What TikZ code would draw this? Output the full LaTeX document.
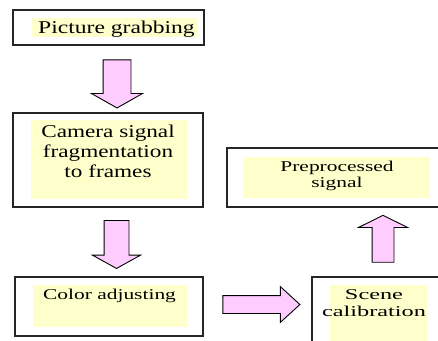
\documentclass[tikz,border=0pt]{standalone}
\usepackage{fontspec}
\setmainfont{Liberation Serif}
\usetikzlibrary{shapes.arrows}

\definecolor{notepink}{HTML}{FFCCFF}
\definecolor{noteyellow}{HTML}{FFFFCC}

% text squeezed into a tabular and stretched sideways
\newcommand{\widetext}[2]{\scalebox{#1}[1]{\begin{tabular}[t]{@{}c@{}}#2\end{tabular}}}

\begin{document}
\begin{tikzpicture}[
    x=1pt,
    y=-1pt,
    stepbox/.style={draw=black!85, line width=1.4pt, fill=white, inner sep=0pt},
    notefill/.style={fill=noteyellow, inner sep=0pt},
    bigtext/.style={anchor=base, inner sep=0pt, font=\fontsize{18}{20}\selectfont},
    smalltext/.style={anchor=base, inner sep=0pt, font=\fontsize{15}{16.5}\selectfont},
    blockarrow/.style={single arrow, draw=black, line width=0.9pt, fill=notepink, inner xsep=0pt}
  ]
    \useasboundingbox (0,0) rectangle (438,340);
    \clip (0,0) rectangle (438,340);

    \node[stepbox, minimum width=191, minimum height=35] (grab) at (108.5, 27.5) {};
    \node[stepbox, minimum width=190, minimum height=94] (frames) at (108, 160) {};
    \node[stepbox, minimum width=188, minimum height=59] (color) at (109, 306.5) {};
    \node[stepbox, minimum width=148, minimum height=83] (scene) at (386, 318.5) {};
    \node[stepbox, minimum width=233, minimum height=59] (result) at (343.5, 177.5) {};

    \node[notefill, minimum width=165, minimum height=19] (grabfill) at (114.5, 27.5) {};
    \node[notefill, minimum width=156, minimum height=79] (framesfill) at (109, 159.5) {};
    \node[notefill, minimum width=154, minimum height=42] (colorfill) at (110, 306) {};
    \node[notefill, minimum width=97, minimum height=65] (scenefill) at (378.5, 317.5) {};
    \node[notefill, minimum width=187, minimum height=41] (resultfill) at (336.5, 177.5) {};

    \node[bigtext] (grabtext) at (116.5, 33) {\widetext{1.31}{Picture grabbing}};
    \node[bigtext] (framestext) at (108, 137) {\widetext{1.29}{Camera signal\\ fragmentation\\ to frames}};
    \node[smalltext] (colortext) at (109.5, 299) {\widetext{1.43}{Color adjusting}};
    \node[smalltext, font=\fontsize{15}{17}\selectfont] (scenetext) at (374, 299) {\widetext{1.62}{Scene\\ calibration}};
    \node[smalltext] (resulttext) at (337, 171) {\widetext{1.43}{Preprocessed\\ signal}};

    \node[blockarrow, rotate=-90, minimum height=48, inner ysep=13.5,
      single arrow head extend=11.5, single arrow tip angle=121] (arr1) at (117, 80) {};
    \node[blockarrow, rotate=-90, minimum height=48, inner ysep=12,
      single arrow head extend=11.5, single arrow tip angle=122] (arr2) at (116.5, 241) {};
    \node[blockarrow, minimum height=77, inner ysep=8.5,
      single arrow head extend=9, single arrow tip angle=85] (arr3) at (256.5, 304.5) {};
    \node[blockarrow, rotate=90, minimum height=47, inner ysep=10.5,
      single arrow head extend=13.5, single arrow tip angle=127] (arr4) at (383, 241.5) {};
  \end{tikzpicture}
\end{document}
